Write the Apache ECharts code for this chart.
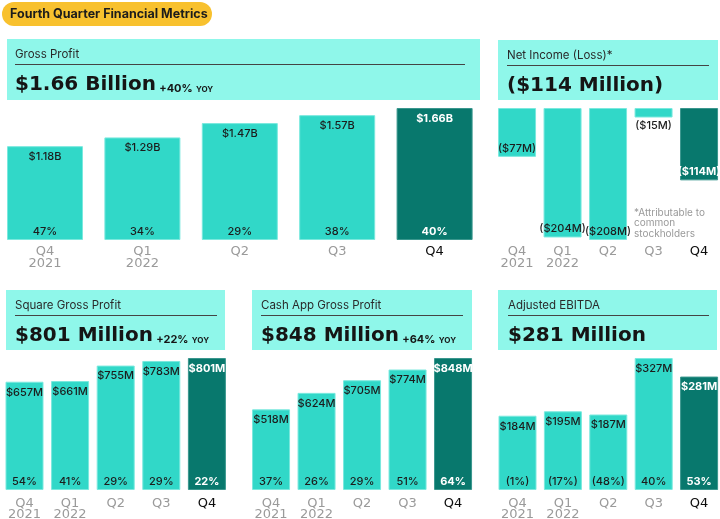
<!DOCTYPE html>
<html>
<head>
<meta charset="utf-8">
<script src="https://cdn.jsdelivr.net/npm/echarts@6/dist/echarts.min.js"></script>
<style>html,body{margin:0;padding:0;background:#fff;}#c{width:720px;height:519px;}</style>
</head>
<body>
<div id="c"></div>
<script>
// ---- data ----
const categories = ['Q4\n2021', 'Q1\n2022', 'Q2', 'Q3', 'Q4'];
const grossProfit = [1.18, 1.29, 1.47, 1.57, 1.66];          // $B
const grossProfitYoY = ['47%', '34%', '29%', '38%', '40%'];
const netIncome = [-77, -204, -208, -15, -114];               // $M
const squareGP = [657, 661, 755, 783, 801];                   // $M
const squareYoY = ['54%', '41%', '29%', '29%', '22%'];
const cashAppGP = [518, 624, 705, 774, 848];                  // $M
const cashAppYoY = ['37%', '26%', '29%', '51%', '64%'];
const ebitda = [184, 195, 187, 327, 281];                     // $M
const ebitdaYoY = ['(1%)', '(17%)', '(48%)', '40%', '53%'];
const panelTitles = ['Gross Profit', 'Net Income (Loss)*', 'Square Gross Profit', 'Cash App Gross Profit', 'Adjusted EBITDA'];
const panelHeadlines = ['$1.66 Billion', '($114 Million)', '$801 Million', '$848 Million', '$281 Million'];
const panelYoY = ['+40%', null, '+22%', '+64%', null];
const footnote = '*Attributable to\ncommon\nstockholders';

// ---- styles ----
const LIGHT = '#31D8C8', LIGHT_BORDER = '#7AE9DE';
const DARK = '#08786D', DARK_BORDER = '#3A978E';
const HEAD = '#8FF7EA';
const TXT = '#1c1c1c';
const FONT = 'Inter, "Noto Sans", sans-serif';
const AXFONT = '"DejaVu Sans", sans-serif';

const panels = [
  { grid: { left: -3.7, width: 487, top: 108, height: 132 }, barWidth: 76, values: grossProfit, yoy: grossProfitYoY, fmt: v => '$' + v.toFixed(2) + 'B', neg: false,
    box: [7, 39, 473, 61], line: [15, 465], axMargin: 6, axLH: 12 },
  { grid: { left: 494.3, width: 227.5, top: 108, height: 132 }, barWidth: 38, values: netIncome, yoy: null, fmt: v => '($' + Math.abs(v) + 'M)', neg: true,
    box: [498, 40, 220, 60], line: [507, 709], axMargin: 6, axLH: 12 },
  { grid: { left: 1.7, width: 228, top: 358, height: 132 }, barWidth: 38, values: squareGP, yoy: squareYoY, fmt: v => '$' + v + 'M', neg: false,
    box: [6, 290, 219, 60], line: [15, 217], axMargin: 8, axLH: 11 },
  { grid: { left: 248.3, width: 227.5, top: 358, height: 132 }, barWidth: 38, values: cashAppGP, yoy: cashAppYoY, fmt: v => '$' + v + 'M', neg: false,
    box: [252, 290, 220, 60], line: [261, 463], axMargin: 8, axLH: 11 },
  { grid: { left: 494.8, width: 227, top: 358, height: 132 }, barWidth: 38, values: ebitda, yoy: ebitdaYoY, fmt: v => '$' + v + 'M', neg: false,
    box: [498, 290, 219, 60], line: [508, 709], axMargin: 8, axLH: 11 }
];

const grids = [], xAxes = [], yAxes = [], series = [], graphics = [];

graphics.push({ type: 'rect', shape: { x: 2, y: 2, width: 210, height: 24, r: 12 }, style: { fill: '#F8C12E' }, silent: true });
graphics.push({ type: 'text', x: 10, y: 14.5, style: { text: 'Fourth Quarter Financial Metrics', font: 'bold 12.5px ' + FONT, fill: TXT, verticalAlign: 'middle' }, silent: true });

panels.forEach((p, i) => {
  grids.push(Object.assign({ containLabel: false, outerBoundsMode: 'none' }, p.grid));
  xAxes.push({
    type: 'category', gridIndex: i,
    data: categories.map((c, j) => j === 4 ? { value: c, textStyle: { color: '#0d0d0d', fontWeight: 500 } } : c),
    axisLine: { show: false }, axisTick: { show: false },
    axisLabel: { color: '#9a9a9a', fontFamily: AXFONT, fontSize: 13, lineHeight: p.axLH, margin: p.axMargin, interval: 0 }
  });
  yAxes.push({
    type: 'value', gridIndex: i, show: false, splitLine: { show: false },
    min: p.neg ? Math.min(...p.values) : 0,
    max: p.neg ? 0 : Math.max(...p.values)
  });
  series.push({
    type: 'bar', xAxisIndex: i, yAxisIndex: i, barWidth: p.barWidth, barGap: '-100%', silent: true,
    data: p.values.map((v, j) => {
      const d = { value: v, itemStyle: j === 4 ? { color: DARK, borderColor: DARK_BORDER, borderWidth: 1 } : { color: LIGHT, borderColor: LIGHT_BORDER, borderWidth: 1 },
        label: { color: j === 4 ? '#fff' : TXT, fontWeight: j === 4 ? 'bold' : 500 } };
      if (p.neg && v > -30) { d.label.position = 'bottom'; d.label.distance = 3; }
      return d;
    }),
    label: { show: true, position: p.neg ? 'insideBottom' : 'insideTop', distance: p.neg ? 3 : 5, fontFamily: FONT, fontSize: 11,
      formatter: prm => p.fmt(prm.value) }
  });
  if (p.yoy) {
    series.push({
      type: 'bar', xAxisIndex: i, yAxisIndex: i, barWidth: p.barWidth, barGap: '-100%', silent: true,
      itemStyle: { color: 'rgba(0,0,0,0)' },
      data: p.values.map((v, j) => ({ value: v, label: { color: j === 4 ? '#fff' : TXT, fontWeight: j === 4 ? 'bold' : 500 } })),
      label: { show: true, position: 'insideBottom', distance: 3, fontFamily: FONT, fontSize: 11,
        formatter: prm => p.yoy[prm.dataIndex] }
    });
  }
  // header box
  const [bx, by, bw, bh] = p.box;
  graphics.push({ type: 'rect', shape: { x: bx, y: by, width: bw, height: bh }, style: { fill: HEAD }, silent: true });
  graphics.push({ type: 'text', x: p.line[0], y: by + 16, style: { text: panelTitles[i], font: '11.5px ' + FONT, fill: '#2a2a2a', verticalAlign: 'middle' }, silent: true });
  graphics.push({ type: 'line', shape: { x1: p.line[0], y1: by + 25.5, x2: p.line[1], y2: by + 25.5 }, style: { stroke: '#444', lineWidth: 1 }, silent: true });
  const yoyTxt = panelYoY[i] ? ' {s|' + panelYoY[i] + '} {t|YOY}' : '';
  graphics.push({ type: 'text', x: p.line[0], y: by + 44, silent: true,
    style: { text: '{b|' + panelHeadlines[i] + '}' + yoyTxt, verticalAlign: 'middle',
      rich: {
        b: { font: 'bold 20px "DejaVu Sans", sans-serif', fill: '#151515', lineHeight: 24, verticalAlign: 'bottom' },
        s: { font: 'bold 11px ' + FONT, fill: '#151515', lineHeight: 24, verticalAlign: 'bottom', padding: [0, 0, 1, 0] },
        t: { font: 'bold 8px ' + FONT, fill: '#151515', lineHeight: 24, verticalAlign: 'bottom', padding: [0, 0, 1, 0] }
      } } });
});

graphics.push({ type: 'text', x: 634, y: 207.5, silent: true,
  style: { text: footnote, font: '10px ' + FONT, fill: '#9a9a9a', lineHeight: 10.5 } });

const chart = echarts.init(document.getElementById('c'), null, { renderer: 'canvas' });
chart.setOption({
  animation: false,
  grid: grids, xAxis: xAxes, yAxis: yAxes, series: series,
  graphic: { elements: graphics }
});
</script>
</body>
</html>
